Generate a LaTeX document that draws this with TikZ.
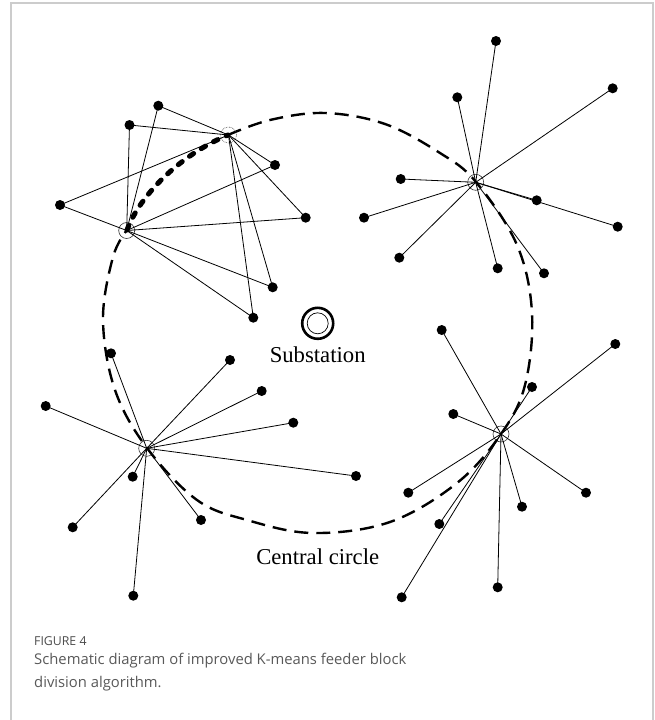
\documentclass[tikz,border=0pt]{standalone}
\usepackage{fontspec}
\setmainfont{Liberation Serif}
\newfontfamily\capfont{Open Sans}
\begin{document}
\begin{tikzpicture}[x=1pt,y=-1pt,
  leaf/.style={circle,fill=black,inner sep=0pt,minimum size=10pt},
  hub/.style={circle,draw=black!80,line width=0.6pt,inner sep=0pt,minimum size=16pt},
  hubdot/.style={hub,densely dotted},
  feeder/.style={line width=0.8pt},
  ring/.style={line width=2.4pt,dash pattern=on 14pt off 8pt},
  thickring/.style={line width=5pt,dash pattern=on 5pt off 9pt,line cap=round},
  lbl/.style={font=\fontsize{22.7}{26}\selectfont,inner sep=0pt},
  capA/.style={font=\capfont\fontsize{12.3}{15}\selectfont,text=black!70,anchor=west,inner sep=0pt},
  capB/.style={font=\capfont\fontsize{14.8}{18}\selectfont,text=black!65,anchor=west,inner sep=0pt}]
\useasboundingbox (0,0) rectangle (654,720);
\fill[white] (0,0) rectangle (654,720);
\draw[black!20,line width=1.5pt] (11,730) -- (11,3) -- (653,3) -- (653,730);

% central dashed curve
\draw[ring] plot[smooth,tension=0.6] coordinates {(228,135) (270,120) (325,113) (385,124) (440,153) (476,182) (517,245) (532,313) (525,385) (501,434) (457,483) (390,522) (313,533) (247,520) (197,500) (147,448) (115,390) (103,320) (113,257) (127,230)};
\draw[thickring] (127,230) .. controls (140,195) and (180,155) .. (228,135);

% hubs
\node[hub] (A) at (126.7,230.5) {};
\node[hubdot] (B) at (228.5,135) {};
\node[hub] (C) at (475.7,182.3) {};
\node[hub] (D) at (146.7,448.3) {};
\node[hub] (E) at (501,434) {};

% leaves cluster A/B
\node[leaf] (a1) at (158.3,105.7) {};
\node[leaf] (a2) at (129.5,125) {};
\node[leaf] (a3) at (60,205) {};
\node[leaf] (a4) at (275,165) {};
\node[leaf] (a5) at (305.7,217.7) {};
\node[leaf] (a6) at (272.7,287.3) {};
\node[leaf] (a7) at (253.3,317.7) {};
% cluster C
\node[leaf] (c1) at (496,41) {};
\node[leaf] (c2) at (612.7,88.3) {};
\node[leaf] (c3) at (457.3,97.3) {};
\node[leaf] (c4) at (400.7,179) {};
\node[leaf] (c5) at (364,217.7) {};
\node[leaf] (c6) at (399.3,257.7) {};
\node[leaf] (c7) at (497.7,268.3) {};
\node[leaf] (c8) at (544,273.3) {};
\node[leaf] (c9) at (536.7,200.3) {};
\node[leaf] (c10) at (617.7,226.7) {};
% cluster D
\node[leaf] (d1) at (111,353.3) {};
\node[leaf] (d2) at (230,360) {};
\node[leaf] (d3) at (261.7,391) {};
\node[leaf] (d4) at (293.3,422.7) {};
\node[leaf] (d5) at (45.7,406) {};
\node[leaf] (d6) at (356,476) {};
\node[leaf] (d7) at (132.7,476.7) {};
\node[leaf] (d8) at (72.7,527.3) {};
\node[leaf] (d9) at (201,520) {};
\node[leaf] (d10) at (133.3,595.7) {};
% cluster E
\node[leaf] (e1) at (441.7,330) {};
\node[leaf] (e2) at (615.3,344) {};
\node[leaf] (e3) at (532,387) {};
\node[leaf] (e4) at (453.3,414) {};
\node[leaf] (e5) at (408.3,492.7) {};
\node[leaf] (e6) at (439.3,524) {};
\node[leaf] (e7) at (401.7,597.3) {};
\node[leaf] (e8) at (497.7,587.3) {};
\node[leaf] (e9) at (522,506.7) {};
\node[leaf] (e10) at (586,492.7) {};

% feeders
\foreach \n in {a1,a2,a3,a4,a5,a6,a7} {
  \draw[feeder] (A.center) -- (\n.center);
  \draw[feeder] (B.center) -- (\n.center);
}
\foreach \n in {c1,c2,c3,c4,c5,c6,c7,c8,c9,c10}
  \draw[feeder] (C.center) -- (\n.center);
\foreach \n in {d1,d2,d3,d4,d5,d6,d7,d8,d9,d10}
  \draw[feeder] (D.center) -- (\n.center);
\foreach \n in {e1,e2,e3,e4,e5,e6,e7,e8,e9,e10}
  \draw[feeder] (E.center) -- (\n.center);

% substation
\node[circle,draw,line width=2.6pt,inner sep=0pt,minimum size=31pt] (sub) at (317.7,323.3) {};
\node[circle,draw,line width=0.7pt,inner sep=0pt,minimum size=21pt] (subin) at (sub.center) {};
\node[lbl] (subl) at (317.7,355) {Substation};
\node[lbl] (cc) at (317.7,557) {Central circle};

% caption
\node[capA] (fig) at (34,641) {FIGURE 4};
\node[capB] (cap1) at (34,660.5) {Schematic diagram of improved K-means feeder block};
\node[capB] (cap2) at (34,683.5) {division algorithm.};
\end{tikzpicture}
\end{document}
